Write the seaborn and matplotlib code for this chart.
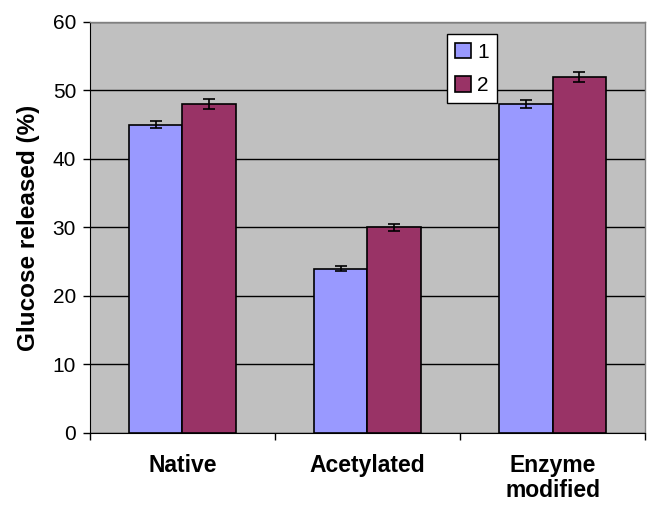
import matplotlib
matplotlib.use("Agg")
from matplotlib import pyplot as plt
import seaborn as sns
import pandas as pd

# data
categories = ["Native", "Acetylated", "Enzyme\nmodified"]
series = ["1", "2"]
values_1 = [45, 24, 48]
values_2 = [48, 30, 52]
errors_1 = [0.5, 0.4, 0.6]
errors_2 = [0.7, 0.5, 0.7]

rows = []
for c, v, e in zip(categories, values_1, errors_1):
    rows.append({"cat": c, "series": "1", "val": v, "err": e})
for c, v, e in zip(categories, values_2, errors_2):
    rows.append({"cat": c, "series": "2", "val": v, "err": e})
df = pd.DataFrame(rows)

sns.set_style("white")
plt.rcParams['font.family'] = ['Liberation Sans', 'DejaVu Sans']
plt.rcParams['text.color'] = 'black'
plt.rcParams['axes.labelcolor'] = 'black'
plt.rcParams['xtick.color'] = 'black'
plt.rcParams['ytick.color'] = 'black'

fig = plt.figure(figsize=(6.47, 5.05), dpi=100)
ax = fig.add_axes([0.139, 0.1426, 0.858, 0.814])
ax.set_facecolor("#C0C0C0")

sns.barplot(data=df, x="cat", y="val", hue="series", order=categories,
            hue_order=series, palette=["#9999FF", "#993366"],
            width=0.575, edgecolor="black", linewidth=1.2, errorbar=None,
            saturation=1, ax=ax, zorder=3)

# error bars at bar centres
for cont, s in zip(ax.containers, series):
    sub = df[df.series == s].set_index("cat").loc[categories]
    xs = [p.get_x() + p.get_width() / 2 for p in cont.patches]
    ax.errorbar(xs, sub.val, yerr=sub.err, fmt="none", ecolor="black",
                elinewidth=1.2, capsize=4, capthick=1.2, zorder=4)

ax.set_ylim(0, 60)
ax.set_xlim(-0.5, 2.5)
ax.set_yticks(range(0, 61, 10))
ax.yaxis.grid(True, color="black", linewidth=1, zorder=0)
ax.set_axisbelow(True)
ax.tick_params(axis="y", labelsize=15, length=5, width=1, colors="black",
               left=True, direction="out", pad=5)
ax.set_xticks(range(len(categories)))
ax.set_xticklabels(categories, fontweight="bold", fontsize=16.5,
                   linespacing=1.12)
ax.tick_params(axis="x", which="major", length=0, pad=15, labelcolor="black")
ax.set_xticks([-0.5, 0.5, 1.5, 2.5], minor=True)
ax.tick_params(axis="x", which="minor", length=5, width=1, color="black",
               bottom=True, direction="out")
ax.set_xlabel("")
ax.set_ylabel("Glucose released (%)", fontsize=17.5, fontweight="bold",
              labelpad=9, color="black")

for side in ["top", "right"]:
    ax.spines[side].set_color("#808080")
    ax.spines[side].set_linewidth(1)
ax.spines["left"].set_color("black")
ax.spines["bottom"].set_color("black")

leg = ax.legend(loc="upper left", bbox_to_anchor=(0.643, 0.97), frameon=True,
                fontsize=15, handlelength=0.75, handleheight=0.75,
                handletextpad=0.3, borderpad=0.4, labelspacing=0.7,
                borderaxespad=0, fancybox=False, edgecolor="black")
leg.get_frame().set_facecolor("white")
leg.get_frame().set_linewidth(1)
leg.get_frame().set_alpha(1)
leg.set_zorder(5)

fig.savefig("out.png", dpi=100)
